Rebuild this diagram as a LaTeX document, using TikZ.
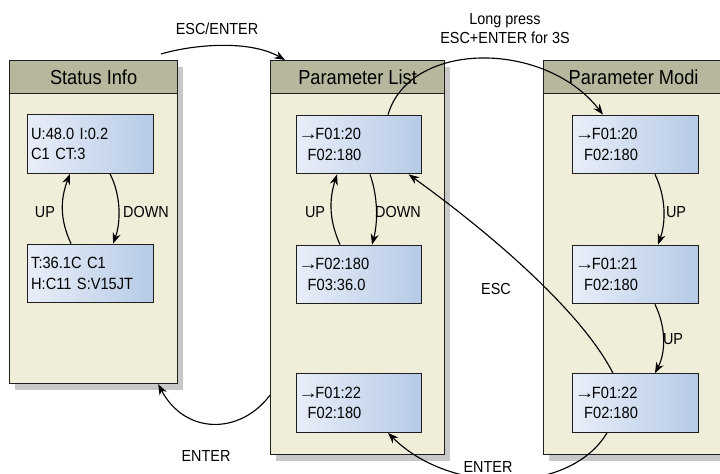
\documentclass[tikz,border=0pt]{standalone}
\usepackage{fontspec}
\setmainfont{Liberation Sans}[FakeStretch=0.9]
\usetikzlibrary{arrows.meta,shadows}
\definecolor{headfill}{RGB}{183,183,158}
\definecolor{bodyfill}{RGB}{240,237,216}
\definecolor{shadowcol}{RGB}{200,200,200}
\definecolor{lcdL}{RGB}{232,238,248}
\definecolor{lcdR}{RGB}{182,202,230}
\definecolor{linecol}{RGB}{30,30,30}
\newcommand\lcdgap{\hspace*{6pt}}
\newcommand\lcdarr{\kern-1pt\scalebox{1.35}[1]{→}\kern-2pt}
\begin{document}
\begin{tikzpicture}[x=0.75pt,y=-0.75pt,
  panelbody/.style={draw=linecol, line width=0.9pt, fill=bodyfill, anchor=north west, inner sep=0pt,
    drop shadow={shadow xshift=3.75pt, shadow yshift=-4.5pt, fill=shadowcol, opacity=1}},
  panelhead/.style={draw=linecol, line width=0.9pt, fill=headfill, anchor=north west, inner sep=0pt,
    minimum height=24.75pt, font=\fontsize{15.2pt}{16pt}\selectfont},
  lcd/.style={draw=linecol, line width=0.9pt, left color=lcdL, right color=lcdR,
    minimum width=94.1pt, minimum height=43.9pt, inner xsep=2.4pt, inner ysep=0pt,
    text width=89pt, align=left, font=\fontsize{12.2pt}{15.5pt}\selectfont},
  lbl/.style={font=\fontsize{12pt}{14.25pt}\selectfont, inner sep=0pt},
  conn/.style={line width=0.85pt, draw=black, -{Stealth[length=8pt,width=6pt]}},
]
\useasboundingbox (0,0) rectangle (720,474);

% panels
\node[panelbody, minimum width=126pt, minimum height=242.25pt] (sp) at (9,60) {};
\node[panelhead, minimum width=126pt] (sph) at (9,60) {Status Info};
\node[panelbody, minimum width=130.5pt, minimum height=295.5pt] (pp) at (270,60) {};
\node[panelhead, minimum width=130.5pt] (pph) at (270,60) {Parameter List};
\node[panelbody, minimum width=135pt, minimum height=295.5pt] (mp) at (543,60) {};
\node[panelhead, minimum width=135pt] (mph) at (543,60) {Parameter Modi};

% LCD boxes
\node[lcd] (s1) at (90.5,144) {U:48.0 I:0.2\\C1 CT:3};
\node[lcd] (s2) at (90.5,273.5) {T:36.1C C1\\H:C11 S:V15JT};
\node[lcd] (p1) at (359,144.5) {\lcdarr F01:20\\\lcdgap F02:180};
\node[lcd] (p2) at (359,274.5) {\lcdarr F02:180\\\lcdgap F03:36.0};
\node[lcd] (p3) at (359,403) {\lcdarr F01:22\\\lcdgap F02:180};
\node[lcd] (m1) at (635.5,144.5) {\lcdarr F01:20\\\lcdgap F02:180};
\node[lcd] (m2) at (635.5,274.5) {\lcdarr F01:21\\\lcdgap F02:180};
\node[lcd] (m3) at (635.5,403) {\lcdarr F01:22\\\lcdgap F02:180};

% connectors
\coordinate (eeStart) at (161,54);
\draw[conn] (eeStart) .. controls (195,44) and (250,40) .. ([xshift=11.25pt]pph.north west);

\draw[conn] ([xshift=21.75pt]p1.north) .. controls (410,40) and (545,40) .. ([xshift=-24.4pt]m1.north);
\draw[conn] ([xshift=-16.9pt]m3.north) .. controls (578,305) and (475,222) .. ([xshift=-10.3pt]p1.south east);
\draw[conn] ([xshift=-21.4pt]m3.south) .. controls (570,495) and (450,495) .. ([xshift=21.75pt]p3.south);
\draw[conn] ([yshift=45pt]pp.south west) .. controls (240,435) and (185,435) .. ([xshift=-15pt]sp.south east);

\draw[conn] ([xshift=-14.6pt]s2.north) .. controls (60,220) and (60,200) .. ([xshift=-15.4pt]s1.south);
\draw[conn] ([xshift=14.6pt]s1.south) .. controls (121,195) and (121,222) .. ([xshift=16.9pt]s2.north);

\draw[conn] ([xshift=-14.25pt]p2.north) .. controls (329,220) and (329,200) .. ([xshift=-16.5pt]p1.south);
\draw[conn] ([xshift=8.25pt]p1.south) .. controls (378,197) and (378,222) .. ([xshift=9.75pt]p2.north);

\draw[conn] ([xshift=14.6pt]m1.south) .. controls (666,197) and (666,222) .. ([xshift=16.9pt]m2.north);
\draw[conn] ([xshift=14.6pt]m2.south) .. controls (666,327) and (666,352) .. ([xshift=14.6pt]m3.north);

% labels
\node[lbl] (lee) at (217,29) {ESC/ENTER};
\node[lbl, align=center] (llp) at (505,29) {Long press\\ESC+ENTER for 3S};
\node[lbl] (lsu) at (45,212) {UP};
\node[lbl] (lsd) at (146,212) {DOWN};
\node[lbl] (lpu) at (315,212) {UP};
\node[lbl] (lpd) at (398,212) {DOWN};
\node[lbl] (lmu1) at (676,212) {UP};
\node[lbl] (lmu2) at (673,339) {UP};
\node[lbl] (lesc) at (496,289) {ESC};
\node[lbl] (lent1) at (206,456) {ENTER};
\node[lbl] (lent2) at (488,467) {ENTER};
\end{tikzpicture}
\end{document}
